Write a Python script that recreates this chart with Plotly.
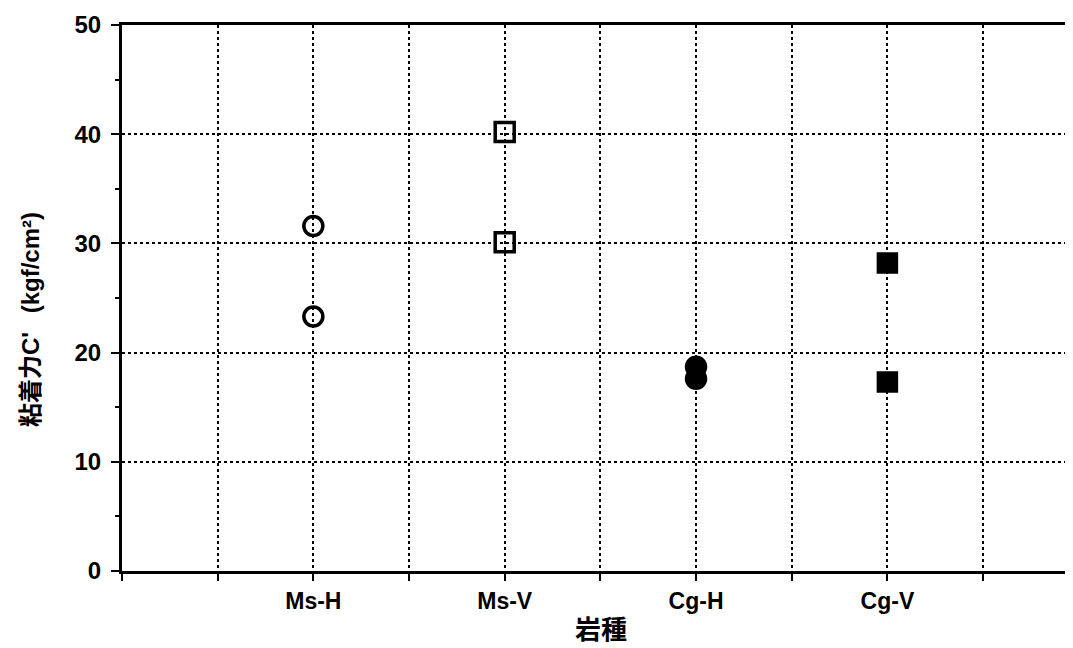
import plotly.graph_objects as go

categories = ["Ms-H", "Ms-V", "Cg-H", "Cg-V"]
cat_pos = [1, 2, 3, 4]
ms_h = [31.6, 23.3]
ms_v = [40.2, 30.1]
cg_h = [18.7, 17.6]
cg_v = [28.2, 17.3]

series = [
    (ms_h, 0, "circle-open", 19),
    (ms_v, 1, "square-open", 19),
    (cg_h, 2, "circle", 19),
    (cg_v, 3, "square", 18),
]

fig = go.Figure()
for vals, idx, sym, sz in series:
    fig.add_trace(go.Scatter(
        x=[cat_pos[idx]] * len(vals), y=vals, mode="markers",
        marker=dict(symbol=sym, size=sz, color="black",
                    line=dict(color="black", width=3.5)),
        showlegend=False, cliponaxis=False))

x_tickvals = [0, 0.5, 1, 1.5, 2, 2.5, 3, 3.5, 4, 4.5]
x_ticktext = ["", "", categories[0], "", categories[1], "", categories[2], "", categories[3], ""]

font = "Liberation Sans, Arial, Noto Sans CJK JP, sans-serif"
L, T, W, H = 114, 17, 1065, 640
B = 77
plot_h = H - T - B
fig.update_layout(
    width=W, height=H,
    margin=dict(l=L, r=0, t=T, b=B),
    paper_bgcolor="white", plot_bgcolor="white",
    font=dict(family=font, color="black"),
    xaxis=dict(range=[0, 4.97], tickvals=x_tickvals, ticktext=x_ticktext,
               showgrid=True, gridcolor="black", gridwidth=2, griddash="dot",
               showline=True, linecolor="black", linewidth=3, mirror=True,
               ticks="outside", ticklen=7, tickwidth=2, tickcolor="black",
               tickfont=dict(size=23, family=font, weight="bold"),
               zeroline=False),
    yaxis=dict(range=[0, 50], dtick=10, tick0=0,
               showgrid=True, gridcolor="black", gridwidth=2, griddash="dot",
               showline=True, linecolor="black", linewidth=3,
               ticks="outside", ticklen=8, tickwidth=2, tickcolor="black",
               ticklabelstandoff=5,
               minor=dict(dtick=5, ticks="outside", ticklen=4, tickwidth=2, tickcolor="black", showgrid=False),
               tickfont=dict(size=24, family=font, weight="bold"),
               zeroline=False),
    annotations=[
        dict(text="岩種", xref="paper", yref="paper", x=(593 - L) / (W - L), y=0,
             yshift=-59, yanchor="middle", showarrow=False,
             font=dict(size=26, family=font, weight="bold")),
        dict(text="粘着力C'\u2002 (kgf/cm²)", xref="paper", yref="paper", x=0, xshift=-92,
             y=(563 - 312) / plot_h, textangle=-90, showarrow=False, xanchor="center",
             font=dict(size=24, family=font, weight="bold")),
    ],
)

fig.write_html("out.html")
